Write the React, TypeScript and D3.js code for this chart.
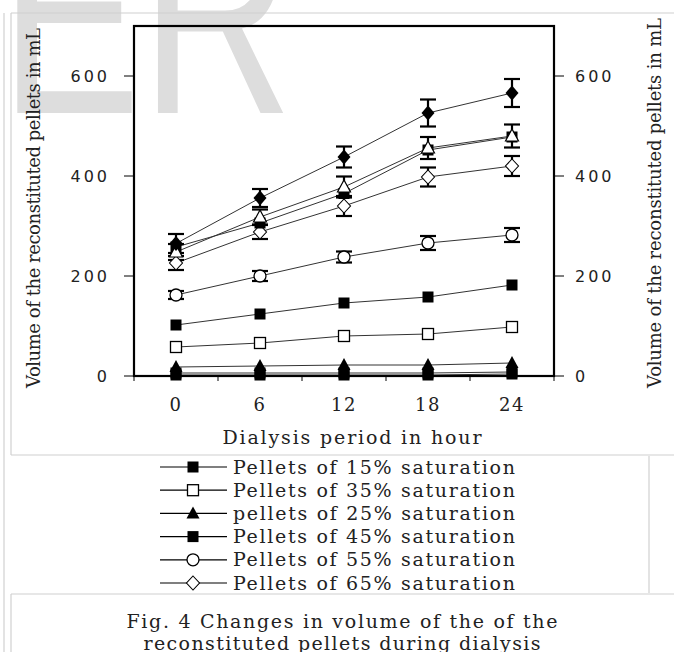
import React from "react";
import * as d3 from "d3";

const hours = ["0", "6", "12", "18", "24"];
const yTicks = [0, 200, 400, 600];

// series values (mL)
const topDiamond = [265, 356, 438, 526, 566];
const topDiamondErr = [19, 18, 21, 27, 28];
const openTriangle = [248, 318, 378, 456, 480];
const openTriangleErr = [16, 15, 21, 22, 23];
const hiddenSquare = [258, 306, 365, 452, 478];
const sat65 = [226, 288, 340, 398, 420];
const sat65Err = [14, 14, 20, 19, 20];
const sat55 = [162, 200, 238, 266, 282];
const sat55Err = [8, 10, 11, 14, 14];
const sat45 = [102, 124, 146, 158, 182];
const sat35 = [58, 66, 80, 84, 98];
const sat25 = [18, 20, 22, 22, 26];
const sat15 = [6, 6, 6, 6, 8];
const baseLine = [2, 2, 2, 2, 4];

const legendLabels = [
  "Pellets of 15% saturation",
  "Pellets of 35% saturation",
  "pellets of 25% saturation",
  "Pellets of 45% saturation",
  "Pellets of 55% saturation",
  "Pellets of 65% saturation",
];
const legendMarkers = ["sqF", "sqO", "triF", "sqF", "circO", "diaO"];

const captionLines = [
  "Fig. 4 Changes in volume of the of the",
  "reconstituted pellets during dialysis",
];
const yTitle = "Volume of the reconstituted pellets  in mL";
const xTitle = "Dialysis period in hour";

const serif = "'DejaVu Serif', 'Liberation Serif', serif";
const sans = "'DejaVu Sans', 'Liberation Sans', sans-serif";

function Marker({ kind, x, y }: { kind: string; x: number; y: number }) {
  const t = `translate(${x},${y})`;
  switch (kind) {
    case "sqF":
      return <rect x={x - 5.5} y={y - 5.5} width={11} height={11} fill="#000" />;
    case "sqO":
      return <rect x={x - 5.5} y={y - 5.5} width={11} height={11} fill="#fff" stroke="#000" strokeWidth={1.3} />;
    case "triF":
      return <path transform={t} d="M0,-7L6.5,5L-6.5,5Z" fill="#000" />;
    case "triO":
      return <path transform={t} d="M0,-7L6.5,5L-6.5,5Z" fill="#fff" stroke="#000" strokeWidth={1.2} />;
    case "circO":
      return <circle cx={x} cy={y} r={6} fill="#fff" stroke="#000" strokeWidth={1.3} />;
    case "diaO":
      return <path transform={t} d="M0,-7L6.5,0L0,7L-6.5,0Z" fill="#fff" stroke="#000" strokeWidth={1.1} />;
    case "diaF":
      return <path transform={t} d="M0,-7.5L6.5,0L0,7.5L-6.5,0Z" fill="#000" />;
    default:
      return null;
  }
}

export default function App() {
  const W = 674, H = 652;
  const x = d3.scalePoint<string>().domain(hours).range([134, 554]).padding(0.5);
  const y = d3.scaleLinear().domain([0, 700]).range([376, 26]);
  const step = x.step();
  const boundaries = d3.range(hours.length + 1).map((i) => 134 + i * step);

  const series = [
    { vals: baseLine, marker: "sqF", err: null },
    { vals: sat15, marker: "sqF", err: null },
    { vals: sat25, marker: "triF", err: null },
    { vals: sat35, marker: "sqO", err: null },
    { vals: sat45, marker: "sqF", err: null },
    { vals: sat55, marker: "circO", err: sat55Err },
    { vals: sat65, marker: "diaO", err: sat65Err },
    { vals: hiddenSquare, marker: "sqF", err: null },
    { vals: openTriangle, marker: "triO", err: openTriangleErr },
    { vals: topDiamond, marker: "diaF", err: topDiamondErr },
  ];

  const line = d3
    .line<number>()
    .x((_, i) => x(hours[i]) as number)
    .y((v) => y(v));

  return (
    <svg width={W} height={H} style={{ position: "absolute", left: 0, top: 0, background: "#fff" }}>
      {/* watermark */}
      <text transform="translate(0,113) scale(0.74,1)" x={0} y={0} fontFamily="'Liberation Sans', Arial, sans-serif" fontSize={285} fill="#dddddd">
        ER
      </text>

      {/* page boxes */}
      <g stroke="#d0d0d0" strokeWidth={1.2} fill="none">
        <line x1={4} y1={13} x2={4} y2={H} />
        <line x1={11} y1={13} x2={W} y2={13} />
        <line x1={11} y1={13} x2={11} y2={455} />
        <line x1={11} y1={455} x2={W} y2={455} />
        <line x1={649} y1={456} x2={649} y2={593} />
        <line x1={11} y1={594} x2={W} y2={594} />
        <line x1={11} y1={594} x2={11} y2={H} />
      </g>

      {/* series lines */}
      {series.map((s, i) => (
        <path key={"l" + i} d={line(s.vals) || ""} fill="none" stroke="#333" strokeWidth={1} />
      ))}

      {/* error bars */}
      {series.map((s, i) =>
        s.err
          ? s.vals.map((v, j) => {
              const cx = x(hours[j]) as number;
              const e = (s.err as number[])[j];
              return (
                <g key={"e" + i + "-" + j} stroke="#000" strokeWidth={2.2}>
                  <line x1={cx} x2={cx} y1={y(v + e)} y2={y(v - e)} />
                  <line x1={cx - 8} x2={cx + 8} y1={y(v + e)} y2={y(v + e)} />
                  <line x1={cx - 8} x2={cx + 8} y1={y(v - e)} y2={y(v - e)} />
                </g>
              );
            })
          : null
      )}

      {/* markers */}
      {series.map((s, i) =>
        s.vals.map((v, j) => <Marker key={"m" + i + "-" + j} kind={s.marker} x={x(hours[j]) as number} y={y(v)} />)
      )}

      {/* frame */}
      <rect x={134} y={26} width={420} height={350} fill="none" stroke="#000" strokeWidth={2.2} />

      {/* y ticks */}
      {yTicks.map((t) => (
        <g key={"yt" + t}>
          <line x1={124} x2={134} y1={y(t)} y2={y(t)} stroke="#000" strokeWidth={1} />
          <line x1={554} x2={564} y1={y(t)} y2={y(t)} stroke="#000" strokeWidth={1} />
          <text x={110} y={y(t)} dy="0.36em" textAnchor="end" fontFamily={sans} fontSize={16} letterSpacing={3} fill="#222">
            {t}
          </text>
          <text x={575} y={y(t)} dy="0.36em" textAnchor="start" fontFamily={sans} fontSize={16} letterSpacing={3} fill="#222">
            {t}
          </text>
        </g>
      ))}

      {/* x ticks */}
      {boundaries.map((b, i) => (
        <line key={"xt" + i} x1={b} x2={b} y1={376} y2={381} stroke="#000" strokeWidth={1} />
      ))}
      {hours.map((h) => (
        <text key={"xl" + h} x={x(h) as number} y={411} textAnchor="middle" fontFamily={serif} fontSize={18} letterSpacing={1.5} fill="#222">
          {h}
        </text>
      ))}

      {/* axis titles */}
      <text x={352} y={444} textAnchor="middle" fontFamily={serif} fontSize={19} textLength={259} lengthAdjust="spacing" fill="#222">
        {xTitle}
      </text>
      <text transform="translate(40,208) rotate(-90)" textAnchor="middle" fontFamily={serif} fontSize={18} textLength={360} lengthAdjust="spacing" fill="#222">
        {yTitle}
      </text>
      <text transform="translate(661,203) rotate(-90)" textAnchor="middle" fontFamily={serif} fontSize={18} textLength={370} lengthAdjust="spacing" fill="#222">
        {yTitle}
      </text>

      {/* legend */}
      {legendLabels.map((lab, i) => {
        const cy = 467 + i * 23.2;
        return (
          <g key={"lg" + i}>
            <line x1={160} x2={227} y1={cy} y2={cy} stroke="#000" strokeWidth={1.2} />
            <Marker kind={legendMarkers[i]} x={193} y={cy} />
            <text x={233} y={cy} dy="0.35em" fontFamily={serif} fontSize={19} textLength={282} lengthAdjust="spacing" fill="#222">
              {lab}
            </text>
          </g>
        );
      })}

      {/* caption */}
      <text x={342} y={628} textAnchor="middle" fontFamily={serif} fontSize={19} textLength={431} lengthAdjust="spacing" fill="#222">
        {captionLines[0]}
      </text>
      <text x={342} y={650} textAnchor="middle" fontFamily={serif} fontSize={19} textLength={397} lengthAdjust="spacing" fill="#222">
        {captionLines[1]}
      </text>
    </svg>
  );
}
